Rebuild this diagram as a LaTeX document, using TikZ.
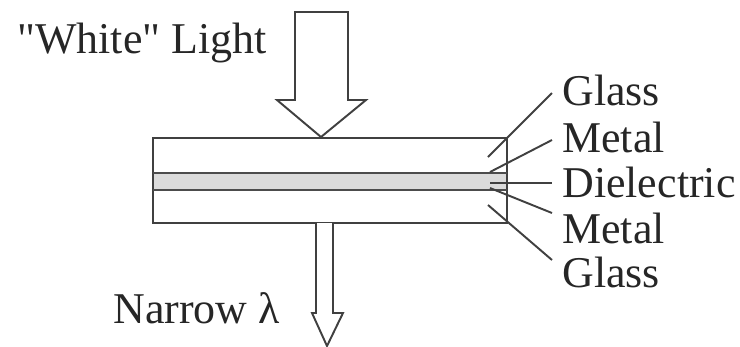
\documentclass[tikz,border=0pt]{standalone}
\usepackage{fontspec}
\setmainfont{Liberation Serif}
\usetikzlibrary{positioning}
\begin{document}
\begin{tikzpicture}[x=0.02cm,y=-0.02cm,
    lbl/.style={anchor=base west,inner sep=0pt,text=black!85,font=\fontsize{25}{30}\selectfont},
    lead/.style={line width=1.1pt,draw=black!75},
    edge/.style={line width=1.1pt,draw=black!75},
    metal/.style={line width=1.6pt,draw=black!70}]
    \useasboundingbox (0,0) rectangle (740,346);
    % filter stack
    \fill[black!14] (153,173) rectangle (507,190);
    \draw[edge] (153,138) rectangle (507,223);
    \draw[metal] (153,173) -- (507,173);
    \draw[metal] (153,190) -- (507,190);
    % incoming and outgoing light
    \draw[edge,fill=white] (295,12) -- (348,12) -- (348,100) -- (366,100) -- (321,137)
        -- (277,100) -- (295,100) -- cycle;
    \draw[edge,fill=white] (316,223) -- (316,313) -- (312,313) -- (327,346)
        -- (343,313) -- (333,313) -- (333,223);
    \node[lbl] (white) at (17,53) {\textquotedbl White\textquotedbl{} Light};
    \node[lbl] (narrow) at (113,323) {Narrow λ};
    % layer labels
    \node[lbl] (glassA) at (562,105) {Glass};
    \node[lbl] (metalA) at (562,152) {Metal};
    \node[lbl] (diel) at (562,197) {Dielectric};
    \node[lbl] (metalB) at (562,243) {Metal};
    \node[lbl] (glassB) at (562,287) {Glass};
    \coordinate (pGlassA) at (488,157);
    \coordinate (pMetalA) at (490,172);
    \coordinate (pDiel) at (490,183);
    \coordinate (pMetalB) at (490,188);
    \coordinate (pGlassB) at (488,205);
    \draw[lead] (pGlassA) -- (552,93);
    \draw[lead] (pMetalA) -- (552,140);
    \draw[lead] (pDiel) -- (552,183);
    \draw[lead] (pMetalB) -- (552,213);
    \draw[lead] (pGlassB) -- (552,260);
\end{tikzpicture}
\end{document}
